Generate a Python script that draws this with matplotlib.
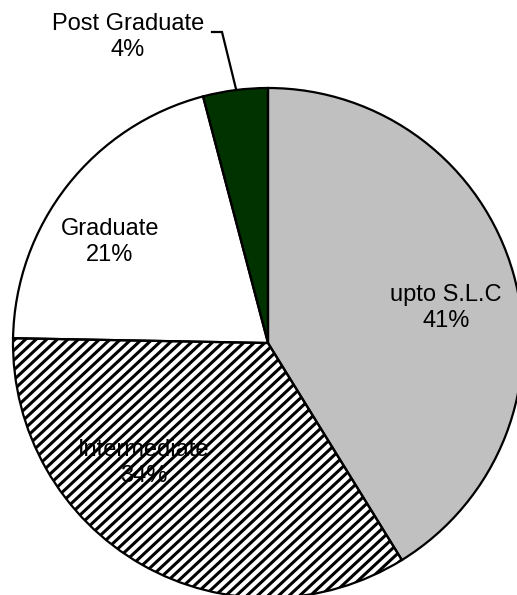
import matplotlib
matplotlib.use("Agg")
import matplotlib.pyplot as plt
from matplotlib.patches import PathPatch
import numpy as np

categories = ["upto S.L.C", "Intermediate", "Graduate", "Post Graduate"]
shares = [41.2, 34.1, 20.6, 4.1]
pct_labels = ["41%", "34%", "21%", "4%"]
colors = ["#C0C0C0", "#FFFFFF", "#FFFFFF", "#003300"]
hatched = [False, True, False, False]

plt.rcParams['font.family'] = ['Liberation Sans', 'DejaVu Sans']

W, H, DPI = 517, 595, 100
fig = plt.figure(figsize=(W / DPI, H / DPI), dpi=DPI)
ax = fig.add_axes([0, 0, 1, 1])

cx, cy, R = 268, 343, 255
wedges, _ = ax.pie(shares, colors=colors, startangle=90, counterclock=False,
                   radius=1.0,
                   wedgeprops=dict(edgecolor="none", linewidth=0))

# custom diagonal hatch (stripe style), clipped to the wedge
ang = np.deg2rad(43)
d = np.array([np.cos(ang), np.sin(ang)])
nrm = np.array([-np.sin(ang), np.cos(ang)])
spacing = 7.2 / R
for w, h in zip(wedges, hatched):
    if not h:
        continue
    for k in np.arange(-1.6, 1.6, spacing):
        p0 = k * nrm - 2 * d
        p1 = k * nrm + 2 * d
        ln, = ax.plot([p0[0], p1[0]], [p0[1], p1[1]], color="black",
                      lw=2.2, solid_capstyle="butt", zorder=2)
        ln.set_clip_path(w)

# outlines on top
for w in wedges:
    outline = PathPatch(w.get_path(), transform=w.get_transform(), fill=False,
                        edgecolor="black", lw=1.6, zorder=3)
    ax.add_patch(outline)

ax.set_aspect('auto')
ax.set_xlim(-cx / R, (W - cx) / R)
ax.set_ylim(-(H - cy) / R, cy / R)
ax.axis('off')

def px(x, y):
    return (x - cx) / R, (cy - y) / R

label_pos = [(446, 308), (144, 463), (110, 242), (128, 37)]
for name, p, pos in zip(categories, pct_labels, label_pos):
    ax.text(*px(*pos), f"{name}\n{p}", ha="center", va="center",
            fontsize=17, color="black", linespacing=1.2, zorder=5)

xs, ys = zip(*[px(212, 32), px(222, 32), px(236, 89)])
ax.plot(xs, ys, color="black", lw=1.6, solid_joinstyle="miter")

fig.savefig("out.png", dpi=DPI)
